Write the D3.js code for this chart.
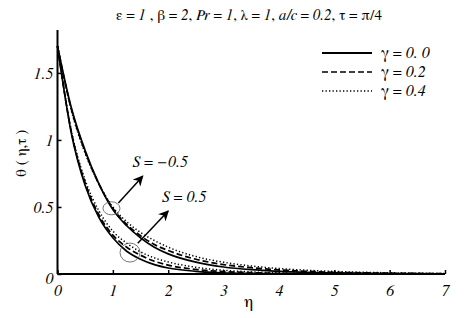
<!DOCTYPE html>
<html><head><meta charset="utf-8">
<script src="https://cdn.jsdelivr.net/npm/d3@7"></script>
</head><body style="margin:0"><svg id="c" width="467" height="318"></svg>
<script>
const eta = [0, 0.25, 0.5, 0.75, 1, 1.25, 1.5, 1.75, 2, 2.5, 3, 3.5, 4, 4.5, 5, 6, 7];
// S = -0.5
const sNeg_g0 = [1.70, 1.24, 0.92, 0.67, 0.48, 0.36, 0.27, 0.20, 0.15, 0.088, 0.052, 0.032, 0.02, 0.012, 0.008, 0.003, 0.001];
const sNeg_g2 = [1.70, 1.23, 0.91, 0.67, 0.49, 0.37, 0.285, 0.22, 0.175, 0.11, 0.07, 0.047, 0.031, 0.02, 0.013, 0.006, 0.003];
const sNeg_g4 = [1.70, 1.22, 0.90, 0.67, 0.50, 0.39, 0.31, 0.25, 0.20, 0.13, 0.088, 0.06, 0.041, 0.028, 0.019, 0.009, 0.004];
// S = 0.5
const sPos_g0 = [1.70, 1.05, 0.66, 0.42, 0.27, 0.17, 0.11, 0.07, 0.045, 0.02, 0.008, 0.004, 0.002, 0.001, 0, 0, 0];
const sPos_g2 = [1.70, 1.06, 0.68, 0.44, 0.29, 0.20, 0.14, 0.095, 0.066, 0.034, 0.018, 0.01, 0.005, 0.003, 0.002, 0.001, 0];
const sPos_g4 = [1.70, 1.07, 0.70, 0.47, 0.32, 0.23, 0.165, 0.12, 0.09, 0.05, 0.028, 0.016, 0.009, 0.005, 0.003, 0.001, 0];
const xTicks = [0, 1, 2, 3, 4, 5, 6, 7];
const yTicks = [0, 0.5, 1, 1.5];
const yTickLabels = ["0", "0.5", "1", "1.5"];
const legendLabels = ["γ = 0. 0", "γ = 0.2", "γ = 0.4"];

const series = [
  {v: sNeg_g0, s: 0}, {v: sNeg_g2, s: 1}, {v: sNeg_g4, s: 2},
  {v: sPos_g0, s: 0}, {v: sPos_g2, s: 1}, {v: sPos_g4, s: 2}
];
const dashes = [null, "6,3", "1.3,2.2"];
const widths = [1.7, 1.7, 1.5];

const svg = d3.select("#c");
const x = d3.scaleLinear().domain([0, 7]).range([57.5, 445]);
const y = d3.scaleLinear().domain([0, 1.82]).range([274, 30]);

const line = d3.line().x((d, i) => x(eta[i])).y(d => y(d)).curve(d3.curveMonotoneX);
series.forEach(s => {
  svg.append("path").attr("d", line(s.v)).attr("fill", "none").attr("stroke", "#000")
    .attr("stroke-width", widths[s.s]).attr("stroke-dasharray", dashes[s.s]);
});

// axes
const xa = svg.append("g").attr("transform", `translate(0,${y(0)})`)
  .call(d3.axisBottom(x).tickValues(xTicks).tickSize(-4).tickPadding(8).tickFormat(d3.format("d")));
const ya = svg.append("g").attr("transform", `translate(${x(0)},0)`)
  .call(d3.axisLeft(y).tickValues(yTicks).tickSize(-4).tickPadding(4).tickFormat((d, i) => yTickLabels[i]));
[xa, ya].forEach(a => {
  a.attr("font-family", null).attr("font-size", null);
  a.select(".domain").attr("stroke-width", 2);
  a.selectAll("text").attr("font-style", "italic").attr("fill", "#000").attr("font-size", 16);
  a.selectAll(".tick line").attr("stroke-width", 1.5);
});
xa.select(".domain").attr("d", `M${x(0)},0H${x(7)}`);
ya.select(".domain").attr("d", `M0,${y(0)}V${y(1.82)}`);
ya.selectAll(".tick").filter(d => d === 0).select("text").attr("dy", "0.6em");
xa.selectAll(".tick text").attr("dy", "0.85em");

// title
const t = svg.append("text").attr("x", 249).attr("y", 20).attr("text-anchor", "middle").attr("font-size", 15);
[["ε = ", 0], ["1", 1], [" , β = ", 0], ["2", 1], [", ", 0], ["Pr", 1], [" = ", 0], ["1", 1], [", λ = ", 0], ["1", 1], [", ", 0], ["a/c", 1], [" = ", 0], ["0.2", 1], [", τ = π/4", 0]]
  .forEach(p => t.append("tspan").text(p[0]).attr("font-style", p[1] ? "italic" : "normal"));

// axis labels
svg.append("text").attr("x", x(3.45)).attr("y", 307).attr("text-anchor", "middle").attr("font-size", 17).text("η");
svg.append("text").attr("transform", `translate(26,${y(0.9)}) rotate(-90)`).attr("text-anchor", "middle")
  .attr("font-size", 15).text("θ ( η,τ )");

// legend
legendLabels.forEach((lab, i) => {
  const yy = 53 + i * 19;
  svg.append("line").attr("x1", 322).attr("x2", 372).attr("y1", yy).attr("y2", yy)
    .attr("stroke", "#000").attr("stroke-width", widths[i] + (i === 0 ? 0.3 : 0)).attr("stroke-dasharray", dashes[i]);
  const tx = svg.append("text").attr("x", 381).attr("y", yy + 5).attr("font-size", 16);
  tx.append("tspan").text("γ = ");
  tx.append("tspan").attr("font-style", "italic").text(lab.replace("γ = ", ""));
});

// annotations
svg.append("defs").append("marker").attr("id", "ah").attr("viewBox", "0 0 10 10").attr("refX", 9).attr("refY", 5)
  .attr("markerWidth", 7).attr("markerHeight", 7).attr("orient", "auto")
  .append("path").attr("d", "M0,0L10,5L0,10L3,5Z").attr("fill", "#000");
const ann = [
  {cx: 0.975, cy: 0.49, rx: 8.5, ry: 6.5, a0: [1.1, 0.53], a1: [1.54, 0.73], lx: 1.36, ly: 0.80, lab: "−0.5"},
  {cx: 1.31, cy: 0.16, rx: 10, ry: 9.5, a0: [1.45, 0.23], a1: [2.0, 0.47], lx: 1.89, ly: 0.535, lab: "0.5"}
];
ann.forEach(a => {
  svg.append("ellipse").attr("cx", x(a.cx)).attr("cy", y(a.cy)).attr("rx", a.rx).attr("ry", a.ry)
    .attr("fill", "none").attr("stroke", "#555").attr("stroke-width", 0.8);
  svg.append("line").attr("x1", x(a.a0[0])).attr("y1", y(a.a0[1])).attr("x2", x(a.a1[0])).attr("y2", y(a.a1[1]))
    .attr("stroke", "#000").attr("stroke-width", 1.5).attr("marker-end", "url(#ah)");
  const tx = svg.append("text").attr("x", x(a.lx)).attr("y", y(a.ly)).attr("font-size", 16);
  tx.append("tspan").attr("font-style", "italic").text("S");
  tx.append("tspan").text(" = ");
  tx.append("tspan").attr("font-style", "italic").text(a.lab);
});

svg.selectAll("text").style("font-family", `"FreeSerif", "Times New Roman", "Noto Serif CJK SC", serif`);
</script></body></html>
